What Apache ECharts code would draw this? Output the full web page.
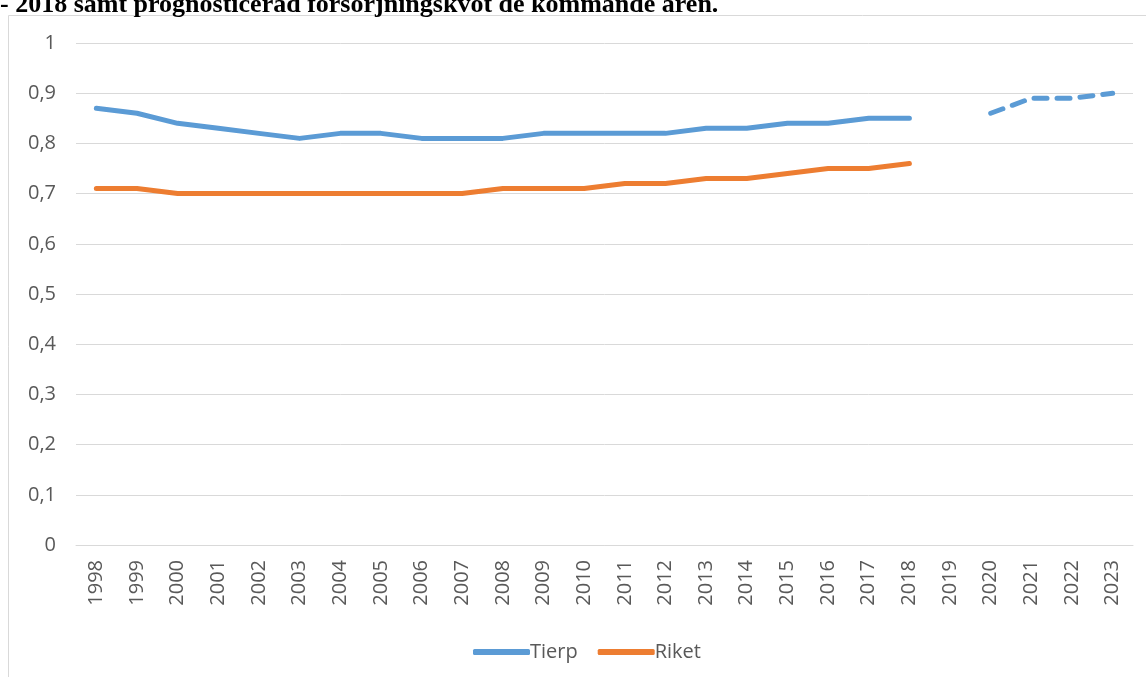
<!DOCTYPE html>
<html><head><meta charset="utf-8">
<script src="https://cdn.jsdelivr.net/npm/echarts@6/dist/echarts.min.js"></script>
<style>html,body{margin:0;padding:0;background:#fff;}#c{width:1146px;height:677px;}</style>
</head><body><div id="c"></div>
<script>
const years = ['1998','1999','2000','2001','2002','2003','2004','2005','2006','2007','2008','2009','2010','2011','2012','2013','2014','2015','2016','2017','2018','2019','2020','2021','2022','2023'];
const tierp = [0.87,0.86,0.84,0.83,0.82,0.81,0.82,0.82,0.81,0.81,0.81,0.82,0.82,0.82,0.82,0.83,0.83,0.84,0.84,0.85,0.85,null,null,null,null,null];
const tierpPrognos = [null,null,null,null,null,null,null,null,null,null,null,null,null,null,null,null,null,null,null,null,null,null,0.86,0.89,0.89,0.90];
const riket = [0.71,0.71,0.70,0.70,0.70,0.70,0.70,0.70,0.70,0.70,0.71,0.71,0.71,0.72,0.72,0.73,0.73,0.74,0.75,0.75,0.76,null,null,null,null,null];
const titleText = '- 2018 samt prognosticerad försörjningskvot de kommande åren.';

const chart = echarts.init(document.getElementById('c'), null, {renderer:'canvas'});
const blue = '#5B9BD5', orange = '#ED7D31';
const FF = '"Open Sans", sans-serif';
chart.setOption({
  animation:false,
  graphic:[
    {type:'rect', shape:{x:8.5,y:15.5,width:1200,height:700}, style:{fill:'none',stroke:'#D9D9D9',lineWidth:1}},
    {type:'text', left:0, top:-8, style:{text:titleText, font:'bold 26px "Liberation Serif", "Times New Roman", serif', fill:'#000'}}
  ],
  grid:{left:76, right:13, top:43, bottom:132, containLabel:false},
  legend:{
    top:637, left:468,
    itemWidth:57, itemHeight:6, itemGap:20,
    icon:'roundRect',
    data:[{name:'Tierp'},{name:'Riket'}],
    textStyle:{fontFamily:FF, fontSize:20, color:'#595959', padding:[0,0,0,-5]}
  },
  xAxis:{
    type:'category', data:years, boundaryGap:true,
    axisLine:{lineStyle:{color:'#D9D9D9', width:1}},
    axisTick:{show:false},
    axisLabel:{rotate:90, interval:0, fontFamily:FF, fontSize:20, color:'#595959', margin:15}
  },
  yAxis:{
    type:'value', min:0, max:1, interval:0.1,
    axisLine:{show:false}, axisTick:{show:false},
    splitLine:{lineStyle:{color:'#D9D9D9', width:1}},
    axisLabel:{fontFamily:FF, fontSize:20, color:'#595959', margin:20,
      formatter:v=>String(Math.round(v*10)/10).replace('.',',')}
  },
  series:[
    {name:'Tierp', type:'line', data:tierp, color:blue, showSymbol:false, symbol:'none',
      lineStyle:{width:5, color:blue, cap:'round', join:'round'}},
    {name:'Tierp prognos', type:'line', data:tierpPrognos, color:blue, showSymbol:false, symbol:'none',
      lineStyle:{width:5, color:blue, type:[13,10], cap:'round', join:'round'}},
    {name:'Riket', type:'line', data:riket, color:orange, showSymbol:false, symbol:'none',
      lineStyle:{width:5, color:orange, cap:'round', join:'round'}}
  ]
});
</script></body></html>
